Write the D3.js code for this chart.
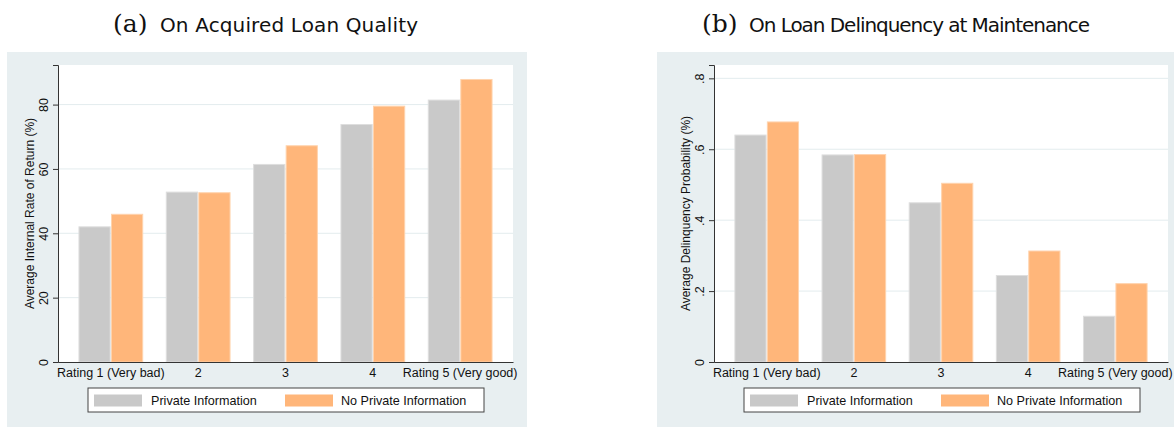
<!DOCTYPE html>
<html>
<head>
<meta charset="utf-8">
<script src="https://cdn.jsdelivr.net/npm/d3@7"></script>
<style>
  body { margin: 0; background: #fff; }
  svg text { font-family: "Liberation Sans", Arial, sans-serif; fill: #111; }
  .title-sans { font-family: "DejaVu Sans", sans-serif; }
  .title-serif { font-family: "DejaVu Serif", "Liberation Serif", serif; }
</style>
</head>
<body>
<svg id="chart" width="1174" height="427"></svg>
<script>
// data
const ratings = ["Rating 1 (Very bad)", "2", "3", "4", "Rating 5 (Very good)"];
const seriesNames = ["Private Information", "No Private Information"];
const seriesColors = ["#c9c9c9", "#ffb67a"];

const irrPrivate   = [42.0, 52.8, 61.4, 73.8, 81.4];
const irrNoPrivate = [45.9, 52.6, 67.2, 79.5, 87.8];
const irrTicks = [0, 20, 40, 60, 80];

const delPrivate   = [0.640, 0.584, 0.449, 0.244, 0.129];
const delNoPrivate = [0.677, 0.585, 0.504, 0.313, 0.221];
const delTicks = [0, 0.2, 0.4, 0.6, 0.8];

const svg = d3.select("#chart");

function drawPanel(opt) {
  const g = svg.append("g");

  // Stata-ish graph region
  g.append("rect")
    .attr("x", opt.bg[0]).attr("y", 52)
    .attr("width", opt.bg[1] - opt.bg[0]).attr("height", 427 - 52)
    .attr("fill", "#e8eff1");

  // title: "(a)" in serif + text in sans
  const title = g.append("text")
    .attr("x", opt.titleX).attr("y", 32);
  title.append("tspan").attr("class", "title-serif").attr("font-size", 25).text(opt.letter);
  title.append("tspan").attr("class", "title-sans").attr("font-size", 20)
    .attr("x", opt.titleX + 47)
    .attr("textLength", opt.titleLen)
    .attr("lengthAdjust", "spacing")
    .text(opt.title);

  const left = opt.plot[0], right = opt.plot[1], top = 65, bottom = 362;

  g.append("rect")
    .attr("x", left).attr("y", top)
    .attr("width", right - left).attr("height", bottom - top)
    .attr("fill", "#fff");

  const x = d3.scaleBand()
    .domain(ratings)
    .range([left, right])
    .paddingInner(0.27)
    .paddingOuter(0.24);

  const xs = d3.scaleBand()
    .domain([0, 1])
    .range([0, x.bandwidth()])
    .paddingInner(0.04);

  const y = d3.scaleLinear()
    .domain([0, opt.ymax])
    .range([bottom, top]);

  // grid lines
  g.append("g")
    .selectAll("line")
    .data(opt.ticks.filter(t => t > 0))
    .join("line")
      .attr("x1", left).attr("x2", right)
      .attr("y1", d => y(d)).attr("y2", d => y(d))
      .attr("stroke", "#e3ecee")
      .attr("stroke-width", 1);

  // bars
  const rows = ratings.map((r, i) => ({ rating: r, vals: [opt.a[i], opt.b[i]] }));
  g.append("g")
    .selectAll("g")
    .data(rows)
    .join("g")
      .attr("transform", d => `translate(${x(d.rating)},0)`)
    .selectAll("rect")
    .data(d => d.vals.map((v, k) => ({ k: k, v: v })))
    .join("rect")
      .attr("x", d => xs(d.k))
      .attr("y", d => y(d.v))
      .attr("width", xs.bandwidth())
      .attr("height", d => bottom - y(d.v))
      .attr("fill", d => seriesColors[d.k])
      .attr("stroke", d => d.k == 0 ? "#dedede" : "#ffd3ad")
      .attr("stroke-width", 1);

  // y axis
  const yAxis = d3.axisLeft(y)
    .tickValues(opt.ticks)
    .tickSize(5)
    .tickPadding(4)
    .tickFormat(opt.fmt);
  const ya = g.append("g")
    .attr("transform", `translate(${left},0)`)
    .call(yAxis);
  ya.select(".domain").attr("stroke", "#333");
  ya.selectAll(".tick line").attr("stroke", "#333");
  ya.selectAll(".tick text")
    .attr("font-size", 12.5)
    .attr("x", 0).attr("dy", 0)
    .attr("text-anchor", "middle")
    .attr("transform", "translate(-10.5,0) rotate(-90)");

  // x axis
  const xAxis = d3.axisBottom(x).tickSize(0).tickPadding(6);
  const xa = g.append("g")
    .attr("transform", `translate(0,${bottom})`)
    .call(xAxis);
  xa.select(".domain").attr("stroke", "#333");
  xa.selectAll(".tick text").attr("font-size", 12.5);

  // axis title
  g.append("text")
    .attr("transform", `translate(${left - 24.5},${(top + bottom) / 2}) rotate(-90)`)
    .attr("text-anchor", "middle")
    .attr("font-size", 12)
    .text(opt.ylabel);

  // legend
  const lx = opt.legend, ly = 388;
  g.append("rect")
    .attr("x", lx).attr("y", ly)
    .attr("width", 396).attr("height", 24)
    .attr("fill", "#fff")
    .attr("stroke", "#444")
    .attr("stroke-width", 1);
  const keyX = [6, 197];
  const txtX = [63, 253];
  seriesNames.forEach((name, k) => {
    g.append("rect")
      .attr("x", lx + keyX[k]).attr("y", ly + 6.5)
      .attr("width", 48).attr("height", 12)
      .attr("fill", seriesColors[k]);
    g.append("text")
      .attr("x", lx + txtX[k]).attr("y", ly + 17)
      .attr("font-size", 12.6)
      .text(name);
  });
}

drawPanel({
  bg: [7, 527], plot: [58, 513], titleX: 113, titleLen: 258,
  letter: "(a)", title: "On Acquired Loan Quality",
  a: irrPrivate, b: irrNoPrivate, ymax: 92.3, ticks: irrTicks,
  fmt: d3.format("d"),
  ylabel: "Average Internal Rate of Return (%)",
  legend: 88
});

drawPanel({
  bg: [657, 1174], plot: [714, 1168], titleX: 702, titleLen: 341,
  letter: "(b)", title: "On Loan Delinquency at Maintenance",
  a: delPrivate, b: delNoPrivate, ymax: 0.8376, ticks: delTicks,
  fmt: d => d == 0 ? "0" : d3.format(".1f")(d).replace(/^0/, ""),
  ylabel: "Average Delinquency Probability (%)",
  legend: 744
});
</script>
</body>
</html>
